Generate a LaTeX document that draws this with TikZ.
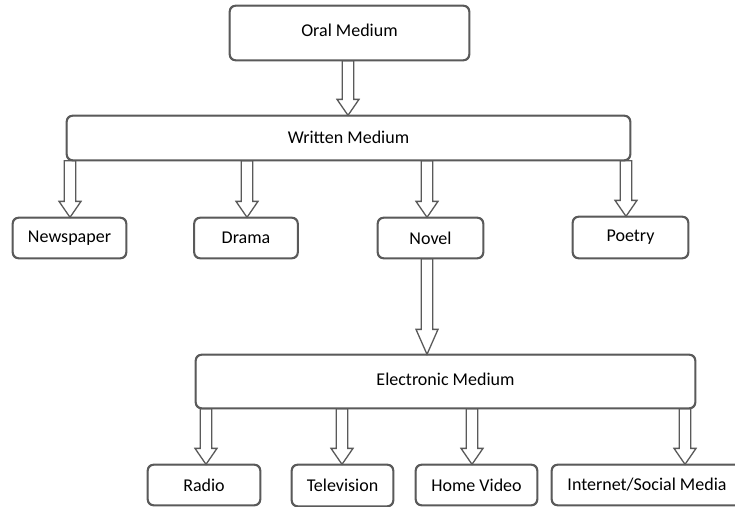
\documentclass[tikz,border=0pt]{standalone}
\usepackage{fontspec}
\setmainfont{Carlito}
\usetikzlibrary{calc}
\definecolor{edge}{HTML}{5A5A5A}
\tikzset{
  box/.style={draw=edge, line width=1.3pt, fill=white, rounded corners=6pt,
    inner sep=0pt, font=\fontsize{18}{20}\selectfont, text=black},
  arr/.style={draw=edge, line width=1.3pt, fill=white, line join=miter}
}
\newcommand{\barrow}[4][16]{%
  \draw[arr] let \p1=(#2.south), \p2=(#3.north) in
  (#4pt-5.8pt,\y1) -- (#4pt-5.8pt,\y2+#1pt) -- (#4pt-11pt,\y2+#1pt) -- (#4pt,\y2)
  -- (#4pt+11pt,\y2+#1pt) -- (#4pt+5.8pt,\y2+#1pt) -- (#4pt+5.8pt,\y1) -- cycle;}
\begin{document}
\begin{tikzpicture}[x=1pt,y=-1pt]
\useasboundingbox (0,0) rectangle (735,506);
\clip (0,0) rectangle (735,506);
% nodes (drawn as empty path first for names)
\path
  node[box, minimum width=239pt, minimum height=54pt] (om) at (349.5,33) {\raisebox{5pt}{Oral Medium}}
  node[box, minimum width=563pt, minimum height=44pt] (wm) at (348.5,138) {\raisebox{2pt}{Written Medium}}
  node[box, minimum width=113pt, minimum height=40pt] (np) at (69.5,238) {Newspaper}
  node[box, minimum width=103pt, minimum height=40pt] (dr) at (246,238) {Drama}
  node[box, minimum width=105pt, minimum height=40pt] (nv) at (430.5,238) {Novel}
  node[box, minimum width=115pt, minimum height=41pt] (po) at (630.5,237.5) {Poetry}
  node[box, minimum width=499pt, minimum height=53pt] (em) at (445.5,381.5) {\raisebox{4pt}{Electronic Medium}}
  node[box, minimum width=112pt, minimum height=40pt] (ra) at (204,485) {Radio}
  node[box, minimum width=101pt, minimum height=41pt] (tv) at (342.5,485.5) {Television}
  node[box, minimum width=121pt, minimum height=40pt] (hv) at (476.5,485) {Home Video}
  node[box, minimum width=190pt, minimum height=40pt] (in) at (647,485) {Internet/Social Media};
% arrows
\barrow{om}{wm}{348}
\barrow{wm}{np}{70}
\barrow{wm}{dr}{247}
\barrow{wm}{nv}{427}
\barrow{wm}{po}{626}
\barrow[25]{nv}{em}{427}
\barrow{em}{ra}{206}
\barrow{em}{tv}{342}
\barrow{em}{hv}{472}
\barrow{em}{in}{685}
% redraw boxes over arrow ends
\foreach \n in {om,wm,np,dr,nv,po,em,ra,tv,hv,in}{
  \draw[edge, line width=1.3pt, rounded corners=6pt] (\n.south west) rectangle (\n.north east);
}
\end{tikzpicture}
\end{document}
